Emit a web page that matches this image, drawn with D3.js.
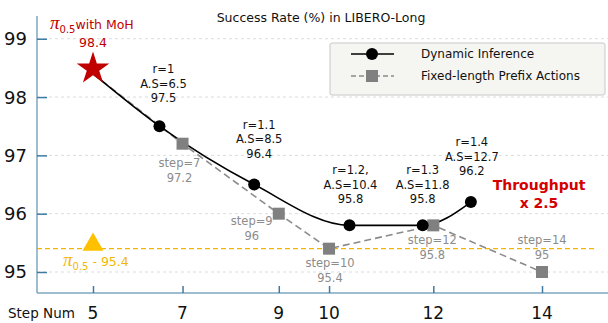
<!DOCTYPE html>
<html>
<head>
<meta charset="utf-8">
<script src="https://cdn.jsdelivr.net/npm/d3@7.9.0/dist/d3.min.js"></script>
<style>
  body { margin: 0; background: #fff; }
  text { font-family: "DejaVu Sans", Verdana, sans-serif; }
  .pi { font-family: "Liberation Serif", "DejaVu Serif", serif; font-style: italic; }
</style>
</head>
<body>
<div id="chart"></div>
<script>
// data
const yTicks = [95, 96, 97, 98, 99];
const xTicks = [5, 7, 9, 10, 12, 14];

const dynSteps = [6.5, 8.5, 10.4, 11.8, 12.7];
const dynRate = [97.5, 96.5, 95.8, 95.8, 96.2];
const dynLabels = [
  ['r=1', 'A.S=6.5', '97.5'],
  ['r=1.1', 'A.S=8.5', '96.4'],
  ['r=1.2,', 'A.S=10.4', '95.8'],
  ['r=1.3', 'A.S=11.8', '95.8'],
  ['r=1.4', 'A.S=12.7', '96.2'],
];

const fixSteps = [7, 9, 10, 12, 14];
const fixRate = [97.2, 96, 95.4, 95.8, 95];
const fixLabels = [
  ['step=7', '97.2'],
  ['step=9', '96'],
  ['step=10', '95.4'],
  ['step=12', '95.8'],
  ['step=14', '95'],
];

const mohStep = 5, mohRate = 98.4;
const baseStep = 5, baseRate = 95.4;

// layout
const width = 608, height = 323;
const svg = d3.select('#chart').append('svg')
  .attr('width', width).attr('height', height);

const xScale = d3.scalePow().exponent(1.25).domain([5, 14]).range([93, 542]);
const yScale = d3.scaleLinear().domain([94.64, 99.39]).range([293, 16]);
const axisLeftX = 37;
const axisColor = '#7ea7c2';
const tickColor = '#3f7aa3';

// gridlines
svg.append('g').selectAll('line').data(yTicks).join('line')
  .attr('x1', axisLeftX).attr('x2', width)
  .attr('y1', d => yScale(d)).attr('y2', d => yScale(d))
  .attr('stroke', '#d8dde2').attr('stroke-dasharray', '3,3').attr('stroke-width', 1);

// baseline dashed line
svg.append('line')
  .attr('x1', axisLeftX).attr('x2', 596)
  .attr('y1', yScale(baseRate)).attr('y2', yScale(baseRate))
  .attr('stroke', '#f2b705').attr('stroke-width', 1.3).attr('stroke-dasharray', '5,3');

// axes
const yAxis = svg.append('g').attr('transform', `translate(${axisLeftX},0)`)
  .call(d3.axisRight(yScale).tickValues(yTicks).tickSize(10).tickFormat(''));
yAxis.select('.domain').attr('stroke', axisColor).attr('stroke-width', 1.5)
  .attr('d', `M0,${yScale.range()[1]}V${yScale.range()[0]}`);
yAxis.selectAll('.tick line').attr('stroke', tickColor).attr('stroke-width', 1.5);

svg.append('g').selectAll('text').data(yTicks).join('text')
  .attr('x', 27).attr('y', d => yScale(d)).attr('dy', '0.36em')
  .attr('text-anchor', 'end').attr('font-size', 18).attr('fill', '#111')
  .text(d => d);

const xAxis = svg.append('g').attr('transform', `translate(0,293)`)
  .call(d3.axisTop(xScale).tickValues(xTicks).tickSize(7).tickFormat(''));
xAxis.select('.domain').attr('stroke', axisColor).attr('stroke-width', 1.5)
  .attr('d', `M${axisLeftX},0H${width}`);
xAxis.selectAll('.tick line').attr('stroke', tickColor).attr('stroke-width', 1.5);

svg.append('g').selectAll('text').data(xTicks).join('text')
  .attr('x', d => xScale(d)).attr('y', 313).attr('dy', '0.36em')
  .attr('text-anchor', 'middle').attr('font-size', 17).attr('fill', '#111')
  .text(d => d);

svg.append('text').attr('x', 8).attr('y', 313).attr('dy', '0.36em')
  .attr('font-size', 13.5).attr('fill', '#111').text('Step Num');

// title
svg.append('text').attr('x', 321).attr('y', 17).attr('dy', '0.36em')
  .attr('text-anchor', 'middle').attr('font-size', 12.5).attr('fill', '#111')
  .text('Success Rate (%) in LIBERO-Long');

// fixed-length series
const fixData = [[mohStep, mohRate]].concat(fixSteps.map((s, i) => [s, fixRate[i]]));
svg.append('path').datum(fixData)
  .attr('fill', 'none').attr('stroke', '#8a8a8a').attr('stroke-width', 1.6)
  .attr('stroke-dasharray', '7,4')
  .attr('d', d3.line().x(d => xScale(d[0])).y(d => yScale(d[1])));

// dynamic series
const dynData = [[mohStep, mohRate]].concat(dynSteps.map((s, i) => [s, dynRate[i]]));
svg.append('path').datum(dynData)
  .attr('fill', 'none').attr('stroke', '#000').attr('stroke-width', 1.6)
  .attr('d', d3.line().curve(d3.curveMonotoneX).x(d => xScale(d[0])).y(d => yScale(d[1])));

svg.append('g').selectAll('rect').data(fixSteps).join('rect')
  .attr('x', (d) => xScale(d) - 6).attr('y', (d, i) => yScale(fixRate[i]) - 6)
  .attr('width', 12).attr('height', 12).attr('fill', '#808080');

svg.append('g').selectAll('circle').data(dynSteps).join('circle')
  .attr('cx', d => xScale(d)).attr('cy', (d, i) => yScale(dynRate[i]))
  .attr('r', 6).attr('fill', '#000');

// star and triangle markers
svg.append('path')
  .attr('transform', `translate(${xScale(mohStep)},${yScale(mohRate) - 5})`)
  .attr('d', d3.symbol(d3.symbolStar, 330)())
  .attr('fill', '#c00000');

svg.append('path')
  .attr('transform', `translate(${xScale(baseStep)},${yScale(baseRate) - 4})`)
  .attr('d', d3.symbol(d3.symbolTriangle, 190)())
  .attr('fill', '#ffc000');

// dynamic labels
const dynOffsets = [[4, -53], [5, -56], [1, -51], [0, -51], [1, -56]];
dynLabels.forEach((lines, i) => {
  const x = xScale(dynSteps[i]) + dynOffsets[i][0];
  const t = svg.append('text')
    .attr('x', x).attr('y', yScale(dynRate[i]) + dynOffsets[i][1])
    .attr('text-anchor', 'middle').attr('font-size', 11.5).attr('fill', '#111');
  lines.forEach((l, j) => t.append('tspan').attr('x', x).attr('dy', j ? 14.5 : 0).text(l));
});

// fixed labels
const fixOffsets = [[-3, 23], [-27, 11], [1, 18], [-1, 19], [0, -28]];
fixLabels.forEach((lines, i) => {
  const x = xScale(fixSteps[i]) + fixOffsets[i][0];
  const t = svg.append('text')
    .attr('x', x).attr('y', yScale(fixRate[i]) + fixOffsets[i][1])
    .attr('text-anchor', 'middle').attr('font-size', 11.5).attr('fill', '#8c8c8c');
  lines.forEach((l, j) => t.append('tspan').attr('x', x).attr('dy', j ? 15 : 0).text(l));
});

// MoH annotation
const moh = svg.append('text').attr('x', 50).attr('y', 29)
  .attr('font-size', 12.5).attr('fill', '#c00000');
moh.append('tspan').attr('class', 'pi').attr('font-size', 19).text('π');
moh.append('tspan').attr('font-size', 10).attr('dy', 4).text('0.5');
moh.append('tspan').attr('dy', -4).text('with MoH');
svg.append('text').attr('x', xScale(mohStep)).attr('y', 47)
  .attr('text-anchor', 'middle').attr('font-size', 12.5).attr('fill', '#c00000').text(mohRate);

// base annotation
const base = svg.append('text').attr('x', 63).attr('y', 266)
  .attr('font-size', 12.5).attr('fill', '#f2b705');
base.append('tspan').attr('class', 'pi').attr('font-size', 19).text('π');
base.append('tspan').attr('font-size', 10).attr('dy', 4).text('0.5');
base.append('tspan').attr('dy', -4).text(' - ' + baseRate);

// throughput
const tp = svg.append('text').attr('text-anchor', 'middle')
  .attr('font-size', 14).attr('font-weight', 'bold').attr('fill', '#d40000');
tp.append('tspan').attr('x', 539).attr('y', 190).text('Throughput');
tp.append('tspan').attr('x', 539).attr('y', 208).text('x 2.5');

// legend
const legend = svg.append('g').attr('transform', 'translate(330,43)');
legend.append('rect').attr('width', 275).attr('height', 52).attr('rx', 2)
  .attr('fill', '#f5f6f2').attr('stroke', '#c8c8c8');
legend.append('line').attr('x1', 21).attr('x2', 64).attr('y1', 11).attr('y2', 11)
  .attr('stroke', '#000').attr('stroke-width', 1.6);
legend.append('circle').attr('cx', 42).attr('cy', 11).attr('r', 6).attr('fill', '#000');
legend.append('line').attr('x1', 21).attr('x2', 64).attr('y1', 33).attr('y2', 33)
  .attr('stroke', '#8a8a8a').attr('stroke-width', 1.4).attr('stroke-dasharray', '5,3');
legend.append('rect').attr('x', 36).attr('y', 27).attr('width', 12).attr('height', 12).attr('fill', '#808080');
legend.append('text').attr('x', 91).attr('y', 11).attr('dy', '0.36em')
  .attr('font-size', 12).attr('fill', '#111').text('Dynamic Inference');
legend.append('text').attr('x', 91).attr('y', 33).attr('dy', '0.36em')
  .attr('font-size', 12).attr('fill', '#111').text('Fixed-length Prefix Actions');
</script>
</body>
</html>
